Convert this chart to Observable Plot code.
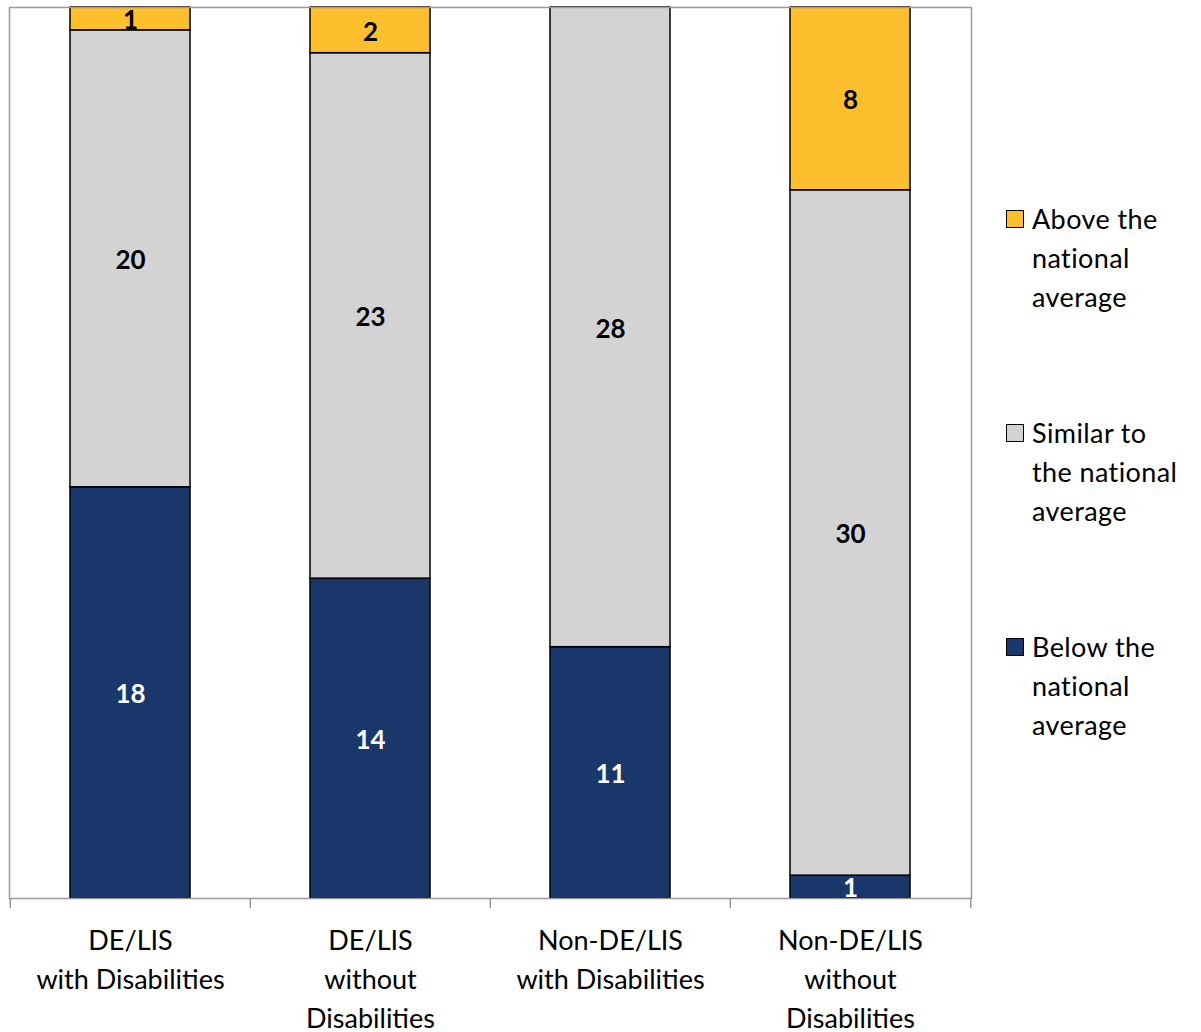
<!DOCTYPE html>
<html>
<head>
<meta charset="utf-8">
<script src="https://cdn.jsdelivr.net/npm/d3@7"></script>
<script src="https://cdn.jsdelivr.net/npm/@observablehq/plot@0.6"></script>
<style>
  html, body { margin: 0; padding: 0; background: #fff; }
  #wrap { position: relative; width: 1201px; height: 1032px; font-family: Lato, "Open Sans", sans-serif; }
  #legend { position: absolute; left: 1005px; top: 0; }
  .item { position: absolute; left: 0; width: 200px; font-size: 27px; line-height: 39px; color: #000; letter-spacing: 0.4px; }
  .sw { position: absolute; left: 1px; top: 11px; width: 16px; height: 16px; border: 1.5px solid #000; }
  .lbl { position: absolute; left: 27px; top: 0; white-space: nowrap; }
</style>
</head>
<body>
<div id="wrap"><div id="chart"></div><div id="legend"></div></div>
<script>
const categories = ["DE/LIS\nwith Disabilities", "DE/LIS\nwithout\nDisabilities", "Non-DE/LIS\nwith Disabilities", "Non-DE/LIS\nwithout\nDisabilities"];
const seriesNames = ["Below the national average", "Similar to the national average", "Above the national average"];
const below = [18, 14, 11, 1];
const similar = [20, 23, 28, 30];
const above = [1, 2, 0, 8];
const colors = ["#1A376C", "#D3D3D3", "#FDBF2D"];
const textColors = ["#ffffff", "#000000", "#000000"];
const legendLines = [["Above the", "national", "average"], ["Similar to", "the national", "average"], ["Below the", "national", "average"]];

const seriesValues = [below, similar, above];
const data = [];
categories.forEach((c, i) => {
  seriesValues.forEach((vals, s) => {
    data.push({category: c, series: seriesNames[s], value: vals[i], s});
  });
});
const labelData = data.filter(d => d.value > 0);

const chart = Plot.plot({
  width: 1201,
  height: 1032,
  marginLeft: 9,
  marginRight: 230,
  marginTop: 7,
  marginBottom: 134,
  style: {fontFamily: "Lato, 'Open Sans', sans-serif", fontSize: "26px", background: "#fff"},
  x: {domain: categories, paddingInner: 0.5, paddingOuter: 0.25, label: null},
  y: {domain: [0, 39], axis: null},
  color: {domain: seriesNames, range: colors},
  marks: [
    Plot.barY(data.filter(d => d.value > 0), Plot.stackY({x: "category", y: "value", fill: "series", order: seriesNames, stroke: "#000", strokeWidth: 1.5})),
    Plot.text(labelData, Plot.stackY({x: "category", y: "value", order: seriesNames, text: d => String(d.value), fill: d => textColors[d.s], fontWeight: "bold", fontSize: 26, dy: 2})),
    Plot.frame({stroke: "#999", strokeWidth: 1.5}),
    Plot.ruleX(categories, {x: d => d, dx: -120.25, stroke: "#999", strokeWidth: 1.5, insetTop: 891, insetBottom: -10}),
    Plot.ruleX([categories[categories.length - 1]], {x: d => d, dx: 120.25, stroke: "#999", strokeWidth: 1.5, insetTop: 891, insetBottom: -10}),
    Plot.axisX({tickSize: 0, tickPadding: 24, fontSize: 27, lineHeight: 1.444, fill: "#000", label: null, style: {letterSpacing: "0.4px"}})
  ]
});
document.getElementById("chart").appendChild(chart);

const legend = document.getElementById("legend");
const legendTops = [199, 413, 627];
const legendColors = [colors[2], colors[1], colors[0]];
legendLines.forEach((lines, i) => {
  const item = document.createElement("div");
  item.className = "item";
  item.style.top = legendTops[i] + "px";
  const sw = document.createElement("div");
  sw.className = "sw";
  sw.style.background = legendColors[i];
  item.appendChild(sw);
  const lbl = document.createElement("div");
  lbl.className = "lbl";
  lbl.innerHTML = lines.join("<br>");
  item.appendChild(lbl);
  legend.appendChild(item);
});
</script>
</body>
</html>
